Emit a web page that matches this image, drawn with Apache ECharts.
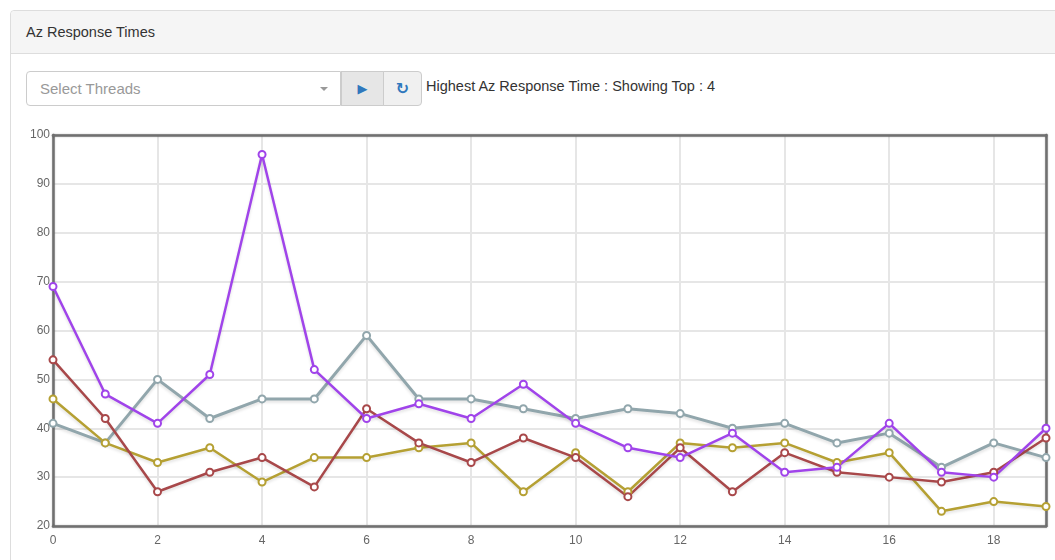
<!DOCTYPE html>
<html>
<head>
<meta charset="utf-8">
<script src="https://cdn.jsdelivr.net/npm/echarts@6/dist/echarts.min.js"></script>
<style>
    body { margin: 0; background: #fff; font-family: Arial, "Liberation Sans", sans-serif; }
    .panel {
        position: absolute; left: 10px; top: 10px; width: 1100px; height: 600px;
        border: 1px solid #ddd; border-radius: 4px; background: #fff;
    }
    .panel-heading {
        height: 42px; background: #f5f5f5; border-bottom: 1px solid #ddd;
        font-size: 14.5px; color: #333; line-height: 43px; padding-left: 15px;
        border-radius: 4px 4px 0 0;
    }
    .select {
        position: absolute; left: 26px; top: 71px; width: 313px; height: 33px;
        border: 1px solid #ccc; border-radius: 4px 0 0 4px; background: #fff;
        font-size: 15px; color: #999; line-height: 33px; box-sizing: content-box;
    }
    .select span.ph { position: absolute; left: 13px; }
    .select span.caret {
        position: absolute; left: 293px; top: 15px; width: 0; height: 0;
        border-left: 4px solid transparent; border-right: 4px solid transparent; border-top: 4px solid #999;
    }
    .btn {
        position: absolute; top: 71px; height: 33px; border: 1px solid #ccc;
        background: #e6e6e6; color: #2f78bd; text-align: center; line-height: 33px;
        font-family: "DejaVu Sans", sans-serif; font-size: 13px;
    }
    .info { position: absolute; left: 426px; top: 78px; font-size: 14.5px; color: #333; }
    #chart { position: absolute; left: 0; top: 120px; width: 1055px; height: 440px; }
</style>
</head>
<body>
<div class="panel"><div class="panel-heading">Az Response Times</div></div>
<div class="select"><span class="ph">Select Threads</span><span class="caret"></span></div>
<div class="btn" style="left:341px;width:41px;">&#9654;</div>
<div class="btn" style="left:383px;width:37px;border-radius:0 4px 4px 0;background:#f0f0f0;font-size:16px;font-weight:bold;">&#8635;</div>
<div class="info">Highest Az Response Time : Showing Top : 4</div>
<div id="chart"></div>
<script>
const xValues = [0, 1, 2, 3, 4, 5, 6, 7, 8, 9, 10, 11, 12, 13, 14, 15, 16, 17, 18, 19];
const greySeries = [41, 37, 50, 42, 46, 46, 59, 46, 46, 44, 42, 44, 43, 40, 41, 37, 39, 32, 37, 34];
const oliveSeries = [46, 37, 33, 36, 29, 34, 34, 36, 37, 27, 35, 27, 37, 36, 37, 33, 35, 23, 25, 24];
const redSeries = [54, 42, 27, 31, 34, 28, 44, 37, 33, 38, 34, 26, 36, 27, 35, 31, 30, 29, 31, 38];
const purpleSeries = [69, 47, 41, 51, 96, 52, 42, 45, 42, 49, 41, 36, 34, 39, 31, 32, 41, 31, 30, 40];

const seriesList = [
    { data: greySeries, color: '#91a6ac', width: 3 },
    { data: oliveSeries, color: '#b5a033', width: 2.5 },
    { data: redSeries, color: '#a8484a', width: 2.5 },
    { data: purpleSeries, color: '#a044ea', width: 2.5 },
];

const myChart = echarts.init(document.getElementById('chart'));

let arr = [];
for (const s of seriesList) {
    arr.push({
        type: 'line',
        data: xValues.map((x, i) => [x, s.data[i]]),
        symbol: 'emptyCircle',
        symbolSize: 7,
        itemStyle: { color: s.color, borderWidth: 2 },
        lineStyle: {
            color: s.color, width: s.width,
            shadowColor: 'rgba(0,0,0,0.12)', shadowBlur: 3, shadowOffsetY: 2,
        },
        emphasis: { disabled: true },
        animation: false,
    });
}

const labelFont = { color: '#666', fontSize: 12, fontFamily: '"Liberation Sans Narrow", Arial, sans-serif' };
const frameLine = { show: true, onZero: false, lineStyle: { color: '#707070', width: 2.5, shadowColor: 'rgba(0,0,0,0.25)', shadowBlur: 2 } };
const gridLine = { show: true, lineStyle: { color: '#e6e6e6', width: 2 } };

const option = {
    grid: { left: 53, right: 9, top: 15, bottom: 34 },
    xAxis: [
        {
            type: 'value', min: 0, max: 19, interval: 2,
            axisLine: frameLine,
            axisTick: { show: false },
            axisLabel: Object.assign({ showMaxLabel: false, margin: 9 }, labelFont),
            splitLine: gridLine,
        },
        {
            type: 'value', position: 'top', min: 0, max: 19,
            axisLine: frameLine, axisTick: { show: false },
            axisLabel: { show: false }, splitLine: { show: false },
        },
    ],
    yAxis: [
        {
            type: 'value', min: 20, max: 100, interval: 10,
            axisLine: frameLine,
            axisTick: { show: false },
            axisLabel: Object.assign({ margin: 3 }, labelFont),
            splitLine: gridLine,
        },
        {
            type: 'value', position: 'right', min: 20, max: 100,
            axisLine: frameLine, axisTick: { show: false },
            axisLabel: { show: false }, splitLine: { show: false },
        },
    ],
    series: arr,
};

myChart.setOption(option);
</script>
</body>
</html>
